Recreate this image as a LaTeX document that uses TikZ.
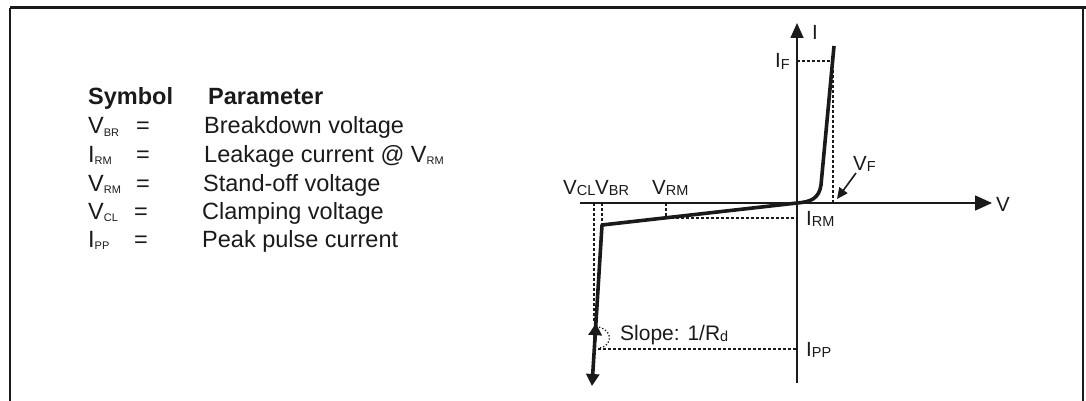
\documentclass[tikz,border=0pt]{standalone}
\usepackage{fontspec}
\setmainfont{Liberation Sans}
\usepackage{xcolor}
\usepackage{tikz}
\usetikzlibrary{calc,arrows.meta}
\definecolor{ink}{HTML}{1A1A1A}
\newcommand{\Sub}[1]{\raisebox{-2.5pt}{\fontsize{11}{11}\selectfont #1}}
\newcommand{\GSub}[1]{\raisebox{-1.5pt}{\fontsize{14.5}{14.5}\selectfont #1}}
\tikzset{
  lbl/.style={anchor=base west,inner sep=0pt,color=ink},
  eqs/.style={anchor=base,inner sep=0pt,color=ink},
  glbl/.style={lbl,font=\fontsize{20.5}{24}\selectfont},
  axis/.style={color=ink,line width=1.6pt},
  curve/.style={color=ink,line width=3.6pt,line join=round},
  guide/.style={color=ink,line width=1.3pt,dash pattern=on 3pt off 2pt},
}

\begin{document}
\begin{tikzpicture}[x=1pt,y=-1pt,font=\fontsize{23.5}{28}\selectfont]
  \useasboundingbox (0,0) rectangle (1086,401);
  % frame
  \draw[color=ink,line width=3pt] (10,8) -- (1086,8);
  \draw[color=ink,line width=1.5pt] (10,8) -- (10,401);
  \draw[color=ink,line width=1.5pt] (1083,8) -- (1083,401);

  % legend
  \node[lbl,font=\fontsize{23.5}{28}\selectfont\bfseries] (hsym) at (88,105) {Symbol};
  \node[lbl,font=\fontsize{23.5}{28}\selectfont\bfseries] (hpar) at (208,105) {Parameter};
  \node[lbl] (sVBR) at (88,134) {V\Sub{BR}};
  \node[eqs] (eVBR) at (143,134) {=};
  \node[lbl] (pVBR) at (204,134) {Breakdown voltage};
  \node[lbl] (sIRM) at (88,162) {I\Sub{RM}};
  \node[eqs] (eIRM) at (143,162) {=};
  \node[lbl] (pIRM) at (204,162) {Leakage current @ V\Sub{RM}};
  \node[lbl] (sVRM) at (88,191) {V\Sub{RM}};
  \node[eqs] (eVRM) at (143,191) {=};
  \node[lbl] (pVRM) at (203,191) {Stand-off voltage};
  \node[lbl] (sVCL) at (88,219) {V\Sub{CL}};
  \node[eqs] (eVCL) at (141,219) {=};
  \node[lbl] (pVCL) at (202,219) {Clamping voltage};
  \node[lbl] (sIPP) at (88,247) {I\Sub{PP}};
  \node[eqs] (eIPP) at (141,247) {=};
  \node[lbl] (pIPP) at (202,247) {Peak pulse current};

  % axes
  \coordinate (O) at (797,203);
  \coordinate (Ibot) at (797,383);
  \coordinate (Itop) at (797,23);
  \coordinate (Vbeg) at (580,203);
  \coordinate (Vend) at (992,203);
  \draw[axis,-{Triangle[length=15pt,width=13pt]}] (Ibot) -- (Itop);
  \draw[axis,-{Triangle[length=17pt,width=15pt]}] (Vbeg) -- (Vend);

  % characteristic
  \coordinate (F) at (834,46);
  \coordinate (Fk) at (821,185);
  \coordinate (K) at (602,225);
  \coordinate (P) at (592,386);
  \draw[curve,-{Triangle[length=12pt,width=13pt]}] (F) -- (Fk) .. controls (819,199) and (810,202) .. (O) -- (K) -- (P);
  \draw[curve,-{Triangle[length=12pt,width=13pt]}] ($(K)!0.72!(P)$) -- ($(K)!0.61!(P)$);

  % guides
  \coordinate (IF) at (797,61);
  \coordinate (VFt) at (833,61);
  \coordinate (VFb) at (833,203);
  \draw[guide] (IF) -- (VFt) -- (VFb);
  \coordinate (VCLa) at (594,203);
  \coordinate (VCLb) at (594,323);
  \draw[guide] (VCLa) -- (VCLb);
  \coordinate (VBRa) at (602,203);
  \draw[guide] (VBRa) -- (K);
  \coordinate (VRMa) at (666,203);
  \coordinate (VRMb) at (666,218);
  \coordinate (IRM) at (797,218);
  \draw[guide] (VRMa) -- (VRMb) -- (IRM);
  \coordinate (IPPa) at (598,349);
  \coordinate (IPP) at (797,349);
  \draw[guide] (IPPa) -- (IPP);
  % slope marker
  \draw[color=ink,line width=1.3pt,dotted] (600,348) .. controls (613,345) and (613,330) .. (598,327);

  % labels
  \node[glbl] (lI) at (812,40) {I};
  \node[glbl] (lIF) at (775,68) {I\GSub{F}};
  \node[glbl] (lVF) at (853,170) {V\GSub{F}};
  \node[glbl] (lV) at (996,211) {V};
  \node[glbl] (lVCL) at (563,194) {V\GSub{CL}};
  \node[glbl] (lVBR) at (595,194) {V\GSub{BR}};
  \node[glbl] (lVRM) at (652,194) {V\GSub{RM}};
  \node[glbl] (lIRM) at (806,225) {I\GSub{RM}};
  \node[glbl] (lIPP) at (806,356) {I\GSub{PP}};
  \node[glbl,font=\fontsize{21}{24}\selectfont] (lslope) at (620,340) {Slope: 1/R\GSub{d}};
  % V_F pointer
  \coordinate (VFs) at (856,173);
  \coordinate (VFe) at (837,199);
  \draw[axis,-{Triangle[length=11pt,width=10pt]}] (VFs) -- (VFe);
\end{tikzpicture}
\end{document}
